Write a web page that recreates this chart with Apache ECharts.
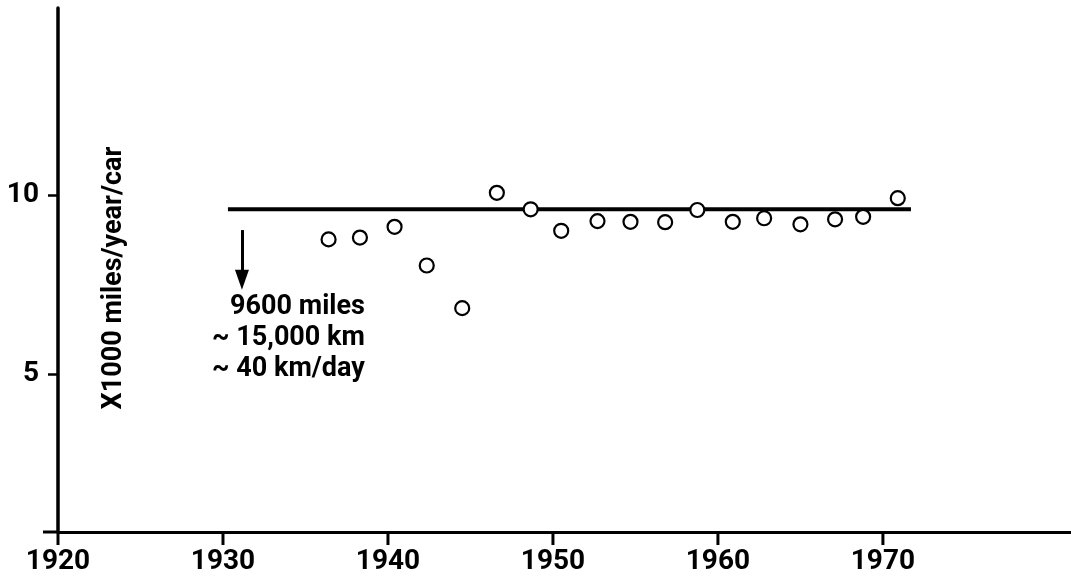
<!DOCTYPE html>
<html>
<head>
<meta charset="utf-8">
<script src="https://cdn.jsdelivr.net/npm/echarts@6/dist/echarts.min.js"></script>
<style>
html,body{margin:0;padding:0;background:#fff;}
#chart{width:1071px;height:580px;}
</style>
</head>
<body>
<div id="chart"></div>
<script>
// Data (years, thousand miles per year per car)
var years = [1936.4, 1938.3, 1940.4, 1942.35, 1944.5, 1946.6, 1948.65, 1950.5, 1952.7, 1954.7, 1956.8, 1958.75, 1960.9, 1962.8, 1965.0, 1967.1, 1968.8, 1970.9];
var miles = [8.76, 8.81, 9.11, 8.03, 6.84, 10.06, 9.60, 9.00, 9.27, 9.25, 9.24, 9.58, 9.25, 9.35, 9.18, 9.32, 9.39, 9.91];
var averageLineYears = [1930.3, 1971.7];
var averageValue = 9.6;
var xTickLabels = [1920, 1930, 1940, 1950, 1960, 1970];
var yTickLabels = [5, 10];
var yAxisTitle = 'X1000 miles/year/car';
var noteLines = ['9600 miles', '~ 15,000 km', '~ 40 km/day'];
var arrowFrom = [1931.15, 9.02];
var arrowTo = [1931.15, 7.63];

var FONT = 'Roboto, "Liberation Sans", sans-serif';

var chart = echarts.init(document.getElementById('chart'), null, {renderer: 'canvas'});

var points = years.map(function (y, i) { return [y, miles[i]]; });

var option = {
  animation: false,
  backgroundColor: '#fff',
  grid: {left: 58, right: 0, top: 8, bottom: 48, containLabel: false, outerBoundsMode: 'none'},
  xAxis: {
    type: 'value',
    min: 1920, max: 1981.4, interval: 10,
    splitLine: {show: false},
    axisLine: {show: true, onZero: false, lineStyle: {color: '#000', width: 3}},
    axisTick: {show: false},
    axisLabel: {show: true, customValues: xTickLabels, color: '#000', fontFamily: FONT, fontWeight: 'bold', fontSize: 28,
      lineHeight: 22, margin: 19,
      formatter: function (v) { return String(v); }}
  },
  yAxis: {
    type: 'value',
    min: 0.59, max: 15.22,
    splitLine: {show: false},
    axisLine: {show: true, onZero: false, lineStyle: {color: '#000', width: 3.5}},
    axisTick: {show: true, length: 10, customValues: yTickLabels, lineStyle: {color: '#000', width: 2.5}},
    axisLabel: {show: true, customValues: yTickLabels, color: '#000', fontFamily: FONT, fontWeight: 'bold', fontSize: 28, margin: 19,
      formatter: function (v) { return String(v); }}
  },
  series: [
    {
      type: 'line',
      data: [[averageLineYears[0], averageValue], [averageLineYears[1], averageValue]],
      symbol: 'none',
      lineStyle: {color: '#000', width: 4},
      z: 2
    },
    {
      type: 'scatter',
      data: points,
      symbol: 'circle',
      symbolSize: 14,
      itemStyle: {color: '#fff', borderColor: '#000', borderWidth: 2.2, opacity: 1},
      z: 3,
      markLine: {
        silent: true,
        symbol: ['none', 'triangle'],
        symbolSize: [14, 20],
        symbolRotate: 180,
        lineStyle: {color: '#000', width: 3, type: 'solid'},
        label: {show: false},
        data: [[{coord: arrowFrom}, {coord: arrowTo}]]
      }
    }
  ]
};
chart.setOption(option);

// annotation text, axis title, x tick marks and axis-line extension anchored at data coordinates
var anchor = chart.convertToPixel({gridIndex: 0}, [1938.6, 7.3]);
var titlePos = chart.convertToPixel({gridIndex: 0}, [1923.4, 7.68]);
var origin = chart.convertToPixel({gridIndex: 0}, [1920, 0.59]);
var graphics = [
  {
    type: 'text',
    x: anchor[0],
    y: anchor[1],
    style: {
      text: noteLines.join('\n'),
      fill: '#000',
      font: 'bold 27px ' + FONT,
      align: 'right',
      verticalAlign: 'top',
      lineHeight: 31
    }
  },
  {
    type: 'text',
    x: titlePos[0],
    y: titlePos[1],
    rotation: Math.PI / 2,
    style: {
      text: yAxisTitle,
      fill: '#000',
      font: 'bold 27px ' + FONT,
      align: 'center',
      verticalAlign: 'middle'
    }
  },
  {
    type: 'rect',
    z: 100,
    shape: {x: origin[0] - 15, y: origin[1] - 1.5, width: 15, height: 3},
    style: {fill: '#000'}
  }
];
xTickLabels.forEach(function (t) {
  var p = chart.convertToPixel({gridIndex: 0}, [t, 0.59]);
  graphics.push({
    type: 'rect',
    z: 100,
    shape: {x: p[0] - 1.5, y: p[1], width: 3, height: 13},
    style: {fill: '#000'}
  });
});
chart.setOption({graphic: graphics});
</script>
</body>
</html>
